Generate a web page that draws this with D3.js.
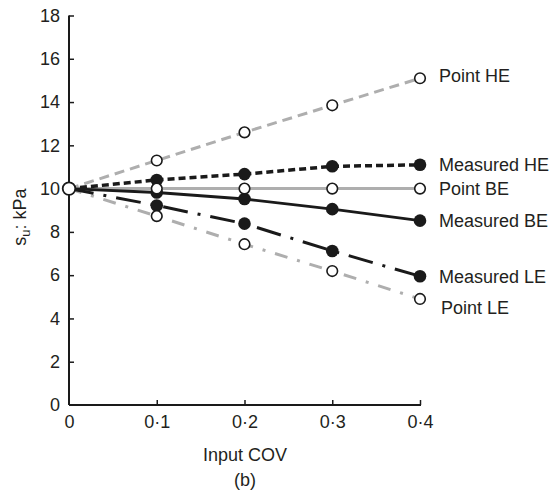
<!DOCTYPE html>
<html><head><meta charset="utf-8">
<script src="https://cdn.jsdelivr.net/npm/d3@7/dist/d3.min.js"></script>
<style>body{margin:0;background:#fff}text{font-family:"Liberation Sans",Arial,sans-serif;fill:#231f20}</style>
</head><body><svg id="c" width="557" height="501"></svg>
<script>
const cov = [0, 0.1, 0.2, 0.3, 0.4];
const xTickLabels = ["0", "0·1", "0·2", "0·3", "0·4"];
const yTicks = [0, 2, 4, 6, 8, 10, 12, 14, 16, 18];
const seriesNames = ["Point HE", "Measured HE", "Point BE", "Measured BE", "Measured LE", "Point LE"];
const pointHE = [10, 11.3, 12.6, 13.85, 15.1];
const measuredHE = [10, 10.4, 10.67, 11.03, 11.1];
const pointBE = [10, 10, 10, 10, 10];
const measuredBE = [10, 9.82, 9.52, 9.05, 8.52];
const measuredLE = [10, 9.22, 8.38, 7.12, 5.95];
const pointLE = [10, 8.73, 7.43, 6.19, 4.9];

const svg = d3.select("#c");
const x = d3.scaleLinear().domain([0, 0.4]).range([69, 420]);
const y = d3.scaleLinear().domain([0, 18]).range([405, 15.5]);
const black = "#1a1a1a", gray = "#aeaeae";
const FS = 18;

const styles = {
  "Point HE":    {data: pointHE,    color: gray,  w: 3,   dash: "10,6",            fill: "#fff", ldy: -3},
  "Measured HE": {data: measuredHE, color: black, w: 3.5, dash: "7,4",             fill: black,  ldy: 0},
  "Point BE":    {data: pointBE,    color: gray,  w: 3,   dash: null,              fill: "#fff", ldy: 0},
  "Measured BE": {data: measuredBE, color: black, w: 2.8, dash: null,              fill: black,  ldy: 0},
  "Measured LE": {data: measuredLE, color: black, w: 3,   dash: "25,10,3,10",      fill: black,  ldy: 0},
  "Point LE":    {data: pointLE,    color: gray,  w: 3,   dash: "13,10,3,10",      fill: "#fff", ldy: 9}
};

// axes
const yAxis = d3.axisLeft(y).tickValues(yTicks).tickSize(-5).tickPadding(9).tickFormat(d3.format("d"));
const gy = svg.append("g").attr("transform", "translate(69,0)").call(yAxis);
const xAxis = d3.axisBottom(x).tickValues(cov).tickSize(-5).tickPadding(10).tickFormat((d, i) => xTickLabels[i]);
const gx = svg.append("g").attr("transform", "translate(0,405)").call(xAxis);
[gx, gy].forEach(g => {
  g.select(".domain").attr("stroke", black).attr("stroke-width", 2);
  g.selectAll(".tick line").attr("stroke", black).attr("stroke-width", 1.5);
  g.selectAll(".tick text").attr("font-size", FS).attr("fill", "#231f20")
   .style("font-family", '"Liberation Sans",Arial,sans-serif');
});
gy.select(".domain").attr("d", "M0,15.5V405");
gx.select(".domain").attr("d", "M69,0H421");
gx.selectAll(".tick text").attr("dy", "0.71em");
gx.selectAll(".tick").filter(d => d === 0).select("line").remove();
gy.selectAll(".tick").filter(d => d === 0).select("line").remove();

// lines
const line = d3.line().x((d, i) => x(cov[i])).y(d => y(d));
const order = ["Point HE", "Point LE", "Point BE", "Measured HE", "Measured BE", "Measured LE"];
order.forEach(n => {
  const s = styles[n];
  svg.append("path").attr("d", line(s.data)).attr("fill", "none")
    .attr("stroke", s.color).attr("stroke-width", s.w)
    .attr("stroke-dasharray", s.dash);
});
// filled markers first, then open
["Measured HE", "Measured BE", "Measured LE"].forEach(n => {
  styles[n].data.forEach((v, i) => {
    if (i === 0) return;
    svg.append("circle").attr("cx", x(cov[i])).attr("cy", y(v)).attr("r", 6.3).attr("fill", black);
  });
});
["Point HE", "Point BE", "Point LE"].forEach(n => {
  styles[n].data.forEach((v, i) => {
    if (i === 0) return;
    svg.append("circle").attr("cx", x(cov[i])).attr("cy", y(v)).attr("r", 5.3)
      .attr("fill", "#fff").attr("stroke", black).attr("stroke-width", 1.6);
  });
});
svg.append("circle").attr("cx", x(0)).attr("cy", y(10)).attr("r", 6.3)
  .attr("fill", "#fff").attr("stroke", black).attr("stroke-width", 1.8);

// labels
seriesNames.forEach(n => {
  const s = styles[n];
  svg.append("text").attr("x", x(0.4) + 19 + (n === "Point LE" ? 2 : 0))
    .attr("y", y(s.data[4]) + s.ldy).attr("dy", "0.35em")
    .attr("font-size", FS).text(n);
});

// axis titles
const yl = svg.append("text").attr("transform", "translate(26,217) rotate(-90)")
  .attr("text-anchor", "middle").attr("font-size", FS);
yl.append("tspan").text("s");
yl.append("tspan").attr("font-size", 13).attr("dy", 4).text("u");
yl.append("tspan").attr("dy", -4).text(": kPa");
svg.append("text").attr("x", 245).attr("y", 455).attr("dy", "0.35em")
  .attr("text-anchor", "middle").attr("font-size", FS).text("Input COV");
svg.append("text").attr("x", 245).attr("y", 480).attr("dy", "0.35em")
  .attr("text-anchor", "middle").attr("font-size", FS).text("(b)");
</script></body></html>
